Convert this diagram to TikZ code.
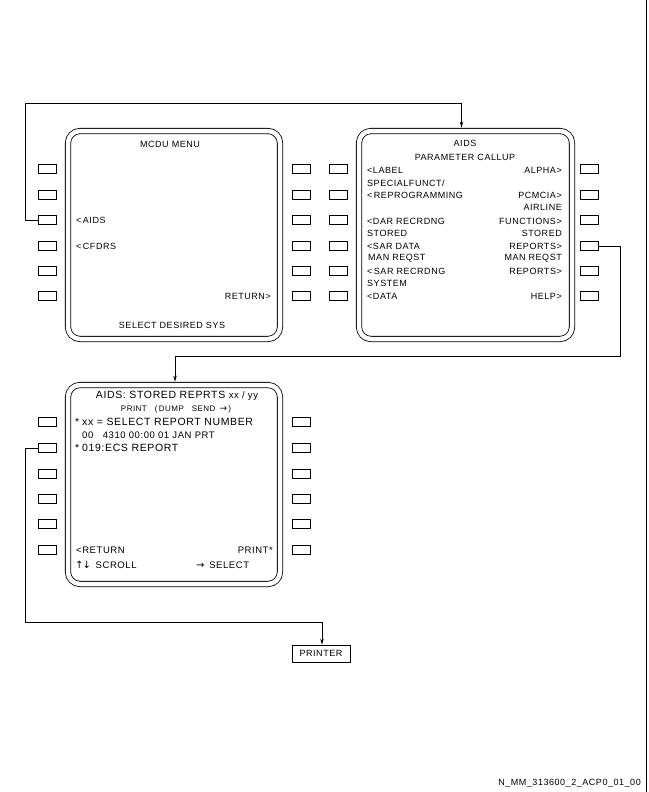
\documentclass[tikz,border=0pt]{standalone}
\usepackage{fontspec}
\newfontfamily\mcdu[LetterSpace=6]{Liberation Sans}
\newfontfamily\sym{DejaVu Sans}
\usetikzlibrary{arrows.meta}

\begin{document}
\begin{tikzpicture}[x=1pt,y=-1pt,>={Stealth[length=6pt,width=3.5pt]}]
		\tikzstyle{screen}=[draw,double,double distance=4.5pt,line width=0.8pt,rounded corners=12pt,inner sep=0pt]
		\tikzstyle{key}=[draw,line width=0.7pt,minimum width=18pt,minimum height=9pt,inner sep=0pt]
		\tikzstyle{txt}=[inner sep=0pt,font=\mcdu\fontsize{9}{10}\selectfont]
		\tikzstyle{big}=[inner sep=0pt,font=\mcdu\fontsize{10.5}{12}\selectfont]
		\tikzstyle{wire}=[line width=0.7pt]

		\useasboundingbox (0,0) rectangle (648,792);

		% mcdu menu page
		\node[screen,minimum width=212pt,minimum height=208pt](menu) at (174,235){};
		\node[key](ml1) at (47,169){};
		\node[key](ml2) at (47,194.5){};
		\node[key](ml3) at (47,220){};
		\node[key](ml4) at (47,246){};
		\node[key](ml5) at (47,271){};
		\node[key](ml6) at (47,296){};
		\node[key](mr1) at (301,169){};
		\node[key](mr2) at (301,194.5){};
		\node[key](mr3) at (301,220){};
		\node[key](mr4) at (301,246){};
		\node[key](mr5) at (301,271){};
		\node[key](mr6) at (301,296){};

		\node[txt](mtitle) at (170,144){MCDU MENU};
		\node[txt,anchor=west](maids) at (76,220){<\,AIDS};
		\node[txt,anchor=west](mcfdrs) at (76,246){<\,CFDRS};
		\node[txt,anchor=east](mret) at (271,296){RETURN>};
		\node[txt](msel) at (172,325){SELECT DESIRED SYS};

		% aids parameter callup page
		\node[screen,minimum width=213pt,minimum height=208pt](aids) at (465.5,235){};
		\node[key](al1) at (338,169){};
		\node[key](al2) at (338,194.5){};
		\node[key](al3) at (338,220){};
		\node[key](al4) at (338,246){};
		\node[key](al5) at (338,271){};
		\node[key](al6) at (338,296){};
		\node[key](ar1) at (589,169){};
		\node[key](ar2) at (589,194.5){};
		\node[key](ar3) at (589,220){};
		\node[key](ar4) at (589,246){};
		\node[key](ar5) at (589,271){};
		\node[key](ar6) at (589,296){};

		\node[txt](atitle) at (465,143){AIDS};
		\node[txt](asub) at (465,157){PARAMETER CALLUP};
		\node[txt,anchor=west](alabel) at (367,170){<LABEL};
		\node[txt,anchor=west](aspec) at (367,183){SPECIALFUNCT/};
		\node[txt,anchor=west](areprog) at (367,195.5){<\,REPROGRAMMING};
		\node[txt,anchor=west](adar) at (367,221){<DAR RECRDNG};
		\node[txt,anchor=west](astored) at (367,233){STORED};
		\node[txt,anchor=west](asar) at (367,246.5){<SAR DATA};
		\node[txt,anchor=west](amanl) at (368,258.5){MAN REQST};
		\node[txt,anchor=west](asarrec) at (367,271){<\,SAR RECRDNG};
		\node[txt,anchor=west](asys) at (367,283){SYSTEM};
		\node[txt,anchor=west](adata) at (367,296.5){<DATA};
		\node[txt,anchor=east](aalpha) at (562,170){ALPHA>};
		\node[txt,anchor=east](apcm) at (562,195.5){PCMCIA>};
		\node[txt,anchor=east](aair) at (562,207.5){AIRLINE};
		\node[txt,anchor=east](afunc) at (562,221){FUNCTIONS>};
		\node[txt,anchor=east](astor) at (562,233){STORED};
		\node[txt,anchor=east](arep) at (562,246.5){REPORTS>};
		\node[txt,anchor=east](amanr) at (562,258.5){MAN REQST};
		\node[txt,anchor=east](arep2) at (562,271){REPORTS>};
		\node[txt,anchor=east](ahelp) at (562,296.5){HELP>};

		% stored reports page
		\node[screen,minimum width=212pt,minimum height=199pt](rep) at (174,484.5){};
		\node[key](rl1) at (47,422){};
		\node[key](rl2) at (47,448){};
		\node[key](rl3) at (47,474){};
		\node[key](rl4) at (47,499){};
		\node[key](rl5) at (47,524){};
		\node[key](rl6) at (47,550){};
		\node[key](rr1) at (301,422){};
		\node[key](rr2) at (301,448){};
		\node[key](rr3) at (301,474){};
		\node[key](rr4) at (301,499){};
		\node[key](rr5) at (301,524){};
		\node[key](rr6) at (301,550){};

		\node[big](rtitle) at (177,396){AIDS: STORED REPRTS {\fontsize{9.5}{11}\selectfont xx / yy}};
		\node[txt,font=\mcdu\fontsize{8}{9}\selectfont](rprint) at (176,409){PRINT\quad (\,DUMP\quad SEND\enspace{\sym\fontsize{9}{9}\selectfont →}\,)};
		\node[big,anchor=west](rsel) at (75,422){*\;xx = SELECT REPORT NUMBER};
		\node[txt,font=\mcdu\fontsize{9.5}{11}\selectfont,anchor=west](rline) at (82,435){00\quad 4310 00:00 01 JAN PRT};
		\node[big,anchor=west](recs) at (75,448){*\;019:ECS REPORT};
		\node[txt,font=\mcdu\fontsize{9.5}{11}\selectfont,anchor=west](rret) at (76,550){<RETURN};
		\node[txt,font=\mcdu\fontsize{9.5}{11}\selectfont,anchor=east](rprt) at (273,550){PRINT*};
		\node[txt,font=\mcdu\fontsize{9.5}{11}\selectfont,anchor=west](rscroll) at (75,565){{\sym\fontsize{10}{10}\selectfont ↑\kern-1pt↓}\enspace SCROLL};
		\node[txt,font=\mcdu\fontsize{9.5}{11}\selectfont,anchor=west](rselect) at (196,565){{\sym\fontsize{10}{10}\selectfont →}\enspace SELECT};

		% printer
		\node[txt,draw,line width=0.7pt,minimum width=58pt,minimum height=17pt](prn) at (321,653.5){PRINTER};

		\draw[wire,->] (ml3.west) -- ++(-12,0) |- ([xshift=-4pt,yshift=27pt]aids.north) -- ([xshift=-4pt,yshift=3pt]aids.north);
		\draw[wire,->] (ar4.east) -- ++(22,0) |- ([xshift=1pt,yshift=28pt]rep.north) -- ([xshift=1pt,yshift=3pt]rep.north);
		\draw[wire,->] (rl2.west) -- ++(-12,0) |- ([xshift=1pt,yshift=22pt]prn.north) -- ([xshift=1pt]prn.north);

		\node[txt,anchor=east](code) at (641,783){N\_MM\_313600\_2\_ACP0\_01\_00};
		\draw[line width=1.5pt] (646.5,0) -- (646.5,792);
	\end{tikzpicture}
\end{document}
